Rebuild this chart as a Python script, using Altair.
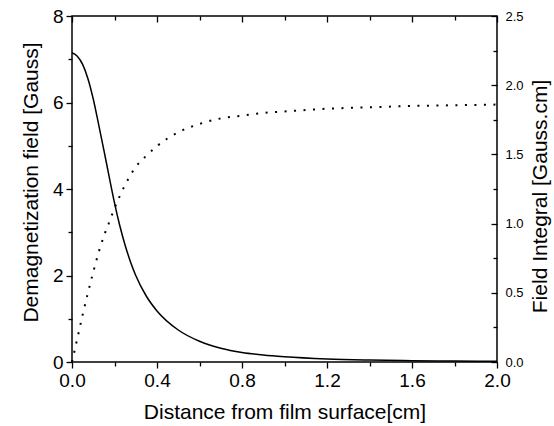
import altair as alt
import pandas as pd

distance = [0.0, 0.025, 0.05, 0.075, 0.10, 0.125, 0.15, 0.175, 0.20, 0.225, 0.25, 0.275,
            0.30, 0.35, 0.40, 0.50, 0.60, 0.70, 0.80, 0.90, 1.00, 1.20, 1.40, 1.60, 1.80, 2.00]
demag_field = [7.15, 7.07, 6.88, 6.55, 6.08, 5.50, 4.90, 4.28, 3.68, 3.15, 2.70, 2.32,
               2.00, 1.52, 1.18, 0.74, 0.48, 0.32, 0.22, 0.16, 0.12, 0.07, 0.045, 0.03, 0.022, 0.016]
field_integral = [0.0, 0.17, 0.34, 0.50, 0.65, 0.79, 0.91, 1.01, 1.11, 1.20, 1.28, 1.35,
                  1.41, 1.49, 1.56, 1.66, 1.72, 1.76, 1.78, 1.80, 1.81, 1.83, 1.84, 1.85, 1.855, 1.86]

x_ticks = [0.0, 0.2, 0.4, 0.6, 0.8, 1.0, 1.2, 1.4, 1.6, 1.8, 2.0]
x_major = [0.0, 0.4, 0.8, 1.2, 1.6, 2.0]
x_minor = [0.2, 0.6, 1.0, 1.4, 1.8]
left_ticks = [0, 1, 2, 3, 4, 5, 6, 7, 8]
right_labels = [0.0, 0.5, 1.0, 1.5, 2.0, 2.5]
right_minor = [0.25, 0.75, 1.25, 1.75, 2.25]

df = pd.DataFrame({"x": distance, "field": demag_field, "integral": field_integral})

FONT = "Liberation Sans"
xdom = alt.Scale(domain=[0, 2], nice=False, zero=False)
ldom = alt.Scale(domain=[0, 8], nice=False)
rdom = alt.Scale(domain=[0, 2.5], nice=False)

base = alt.Chart(df)

solid = base.mark_line(color="black", strokeWidth=1.5, interpolate="monotone").encode(
    x=alt.X("x:Q", scale=xdom, axis=alt.Axis(
        orient="bottom", values=x_ticks, domain=False, grid=False, labelFlush=False,
        tickColor="black", tickWidth=1.3,
        tickSize={"condition": {"test": "round(datum.value*10) % 4 == 0", "value": 6}, "value": 4},
        labelExpr="round(datum.value*10) % 4 == 0 ? format(datum.value, '.1f') : ''",
        labelFont=FONT, labelFontSize=19, labelColor="black", labelPadding=3,
        title="Distance from film surface[cm]", titleFont=FONT, titleFontSize=21,
        titleFontWeight="normal", titleColor="black", titleBaseline="alphabetic", titleY=56)),
    y=alt.Y("field:Q", scale=ldom, axis=alt.Axis(
        orient="left", values=left_ticks, domain=False, grid=False, labelFlush=False,
        tickColor="black", tickWidth=1.3,
        tickSize={"condition": {"test": "datum.value % 2 == 0", "value": 6}, "value": 4},
        labelExpr="datum.value % 2 == 0 ? format(datum.value, 'd') : ''",
        labelFont=FONT, labelFontSize=19, labelColor="black", labelPadding=3,
        title="Demagnetization field [Gauss]", titleFont=FONT, titleFontSize=21,
        titleFontWeight="normal", titleColor="black", titleAngle=270,
        titleBaseline="alphabetic", titleX=-35, titleY=166, titleAlign="center")),
)

dotted = base.mark_line(color="black", strokeWidth=2, strokeDash=[2, 7.5],
                        interpolate="monotone").encode(
    x=alt.X("x:Q", scale=xdom, axis=alt.Axis(
        orient="top", values=x_major, domain=False, grid=False, labels=False,
        tickColor="black", tickWidth=1.3, tickSize=6, offset=-6, title=None)),
    y=alt.Y("integral:Q", scale=rdom, axis=alt.Axis(
        orient="right", values=right_labels, domain=False, grid=False, labelFlush=False,
        ticks=False, tickSize=0, labelPadding=8,
        labelFont=FONT, labelFontSize=13, labelColor="black", format=".1f",
        title="Field Integral [Gauss.cm]", titleFont=FONT, titleFontSize=21,
        titleFontWeight="normal", titleColor="black", titleAngle=270,
        titleBaseline="alphabetic", titleX=49, titleY=180, titleAlign="center")),
)

ghost1 = base.mark_line(opacity=0).encode(
    x=alt.X("x:Q", scale=xdom, axis=alt.Axis(
        orient="top", values=x_minor, domain=False, grid=False, labels=False,
        tickColor="black", tickWidth=1.3, tickSize=4, offset=-4, title=None)),
    y=alt.Y("integral:Q", scale=rdom, axis=alt.Axis(
        orient="right", values=right_labels, domain=False, grid=False, labels=False,
        tickColor="black", tickWidth=1.3, tickSize=6, offset=-6, title=None)),
)

ghost2 = base.mark_line(opacity=0).encode(
    x=alt.X("x:Q", scale=xdom, axis=None),
    y=alt.Y("integral:Q", scale=rdom, axis=alt.Axis(
        orient="right", values=right_minor, domain=False, grid=False, labels=False,
        tickColor="black", tickWidth=1.3, tickSize=4, offset=-4, title=None)),
)

chart = alt.layer(solid, dotted, ghost1, ghost2).resolve_scale(
    x="independent", y="independent"
).properties(
    width=425, height=346,
    padding={"left": 72, "top": 16, "right": 57, "bottom": 64},
    autosize=alt.AutoSizeParams(type="none"),
    background="white",
).configure_view(stroke="black", strokeWidth=1.5)

chart.save("out.html", embed_options={"renderer": "svg", "actions": False})
